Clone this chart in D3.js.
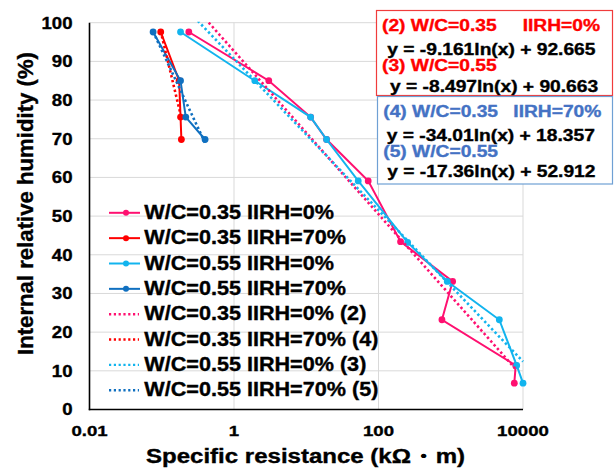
<!DOCTYPE html>
<html>
<head>
<meta charset="utf-8">
<script src="https://cdn.jsdelivr.net/npm/d3@7"></script>
<style>
  html, body { margin: 0; padding: 0; background: #fff; }
  svg { display: block; }
  text { font-family: "Liberation Sans", Arial, sans-serif; font-weight: bold; stroke: currentColor; stroke-width: 0.35px; }
</style>
</head>
<body>
<svg id="chart" width="614" height="471"></svg>
<script>
// ---------- data ----------
const seriesNames = ["W/C=0.35 IIRH=0%", "W/C=0.35 IIRH=70%", "W/C=0.55 IIRH=0%", "W/C=0.55 IIRH=70%"];
const seriesColors = ["#ff1070", "#ff0000", "#12b4ee", "#1070c0"];

const s1x = [0.237, 3.03, 11.5, 19.1, 72, 202, 1062, 755, 7925, 7580];
const s1y = [97.6, 85.0, 75.6, 69.8, 59.1, 43.4, 33.1, 23.2, 11.4, 6.8];
const s2x = [0.0968, 0.174, 0.182, 0.187];
const s2y = [97.6, 85.0, 75.6, 69.8];
const s3x = [0.182, 1.94, 11.5, 19.1, 52.4, 253, 895, 4700, 8180, 10000];
const s3y = [97.6, 85.0, 75.6, 69.8, 59.1, 43.2, 33.1, 23.2, 11.4, 6.8];
const s4x = [0.0759, 0.182, 0.215, 0.398];
const s4y = [97.6, 85.0, 75.6, 69.8];

// logarithmic trendlines y = a ln(x) + b  (as printed on the chart)
const trendNames = ["W/C=0.35 IIRH=0% (2)", "W/C=0.35 IIRH=70% (4)", "W/C=0.55 IIRH=0% (3)", "W/C=0.55 IIRH=70% (5)"];
const trendSeries = [0, 1, 2, 3];          // which data series each trend belongs to
const trendA = [-9.161, -34.01, -8.497, -17.36];
const trendB = [92.665, 18.357, 90.663, 52.912];

const xTicks = [0.01, 1, 100, 10000];
const xTickLabels = ["0.01", "1", "100", "10000"];
const yTicks = [0, 10, 20, 30, 40, 50, 60, 70, 80, 90, 100];

const xTitle = "Specific resistance (kΩ・m)";
const yTitle = "Internal relative humidity (%)";

const eqRed = [
  { t: "(2) W/C=0.35", c: "#ff0000" }, { t: "IIRH=0%", c: "#ff0000" },
  { t: "y = -9.161ln(x) + 92.665", c: "#000" },
  { t: "(3) W/C=0.55", c: "#ff0000" },
  { t: "y = -8.497ln(x) + 90.663", c: "#000" }
];
const eqBlue = [
  { t: "(4) W/C=0.35", c: "#4472c4" }, { t: "IIRH=70%", c: "#4472c4" },
  { t: "y = -34.01ln(x) + 18.357", c: "#000" },
  { t: "(5) W/C=0.55", c: "#4472c4" },
  { t: "y = -17.36ln(x) + 52.912", c: "#000" }
];

// ---------- layout ----------
const svg = d3.select("#chart");
const L = 89.5, R = 523, T = 22.7, B = 409.5;
const x = d3.scaleLog().domain([0.01, 10000]).range([L, R]);
const y = d3.scaleLinear().domain([0, 100]).range([B, T]);

function stretchText(sel, k) {
  sel.each(function () {
    const w = this.getComputedTextLength();
    d3.select(this).attr("textLength", w * k).attr("lengthAdjust", "spacingAndGlyphs");
  });
  return sel;
}

// gridlines
svg.append("g").selectAll("line").data(yTicks.filter(d => d > 0)).join("line")
  .attr("x1", L).attr("x2", R).attr("y1", d => y(d)).attr("y2", d => y(d))
  .attr("stroke", "#d9d9d9").attr("stroke-width", 1);
svg.append("g").selectAll("line").data(xTicks.filter(d => d > 0.01)).join("line")
  .attr("x1", d => x(d)).attr("x2", d => x(d)).attr("y1", T).attr("y2", B)
  .attr("stroke", "#d9d9d9").attr("stroke-width", 1);

// axes lines
svg.append("line").attr("x1", L).attr("x2", L).attr("y1", T).attr("y2", B + 0.7)
  .attr("stroke", "#000").attr("stroke-width", 1.6);
svg.append("line").attr("x1", L - 0.7).attr("x2", R).attr("y1", B).attr("y2", B)
  .attr("stroke", "#000").attr("stroke-width", 1.6);

// tick labels
stretchText(svg.append("g").style("color", "#000").selectAll("text").data(yTicks).join("text")
  .attr("x", 72.5).attr("y", d => y(d) + 5.8).attr("text-anchor", "end")
  .attr("font-size", 16).text(d => d), 1.16);
stretchText(svg.append("g").style("color", "#000").selectAll("text").data(xTicks).join("text")
  .attr("x", d => x(d)).attr("y", 436).attr("text-anchor", "middle")
  .attr("font-size", 15.5).text((d, i) => xTickLabels[i]), 1.2);

// axis titles
svg.append("text").style("color", "#000").attr("x", 305.5).attr("y", 463).attr("text-anchor", "middle")
  .attr("font-size", 19.5).attr("textLength", 319).attr("lengthAdjust", "spacingAndGlyphs")
  .text(xTitle);
svg.append("text").style("color", "#000").attr("transform", "translate(33,203.5) rotate(-90)").attr("text-anchor", "middle")
  .attr("font-size", 22).attr("textLength", 303).attr("lengthAdjust", "spacingAndGlyphs")
  .text(yTitle);

// clip
svg.append("clipPath").attr("id", "plotclip").append("rect")
  .attr("x", L).attr("y", T - 1).attr("width", R - L + 6).attr("height", B - T + 1);

const plot = svg.append("g");
const xs = [s1x, s2x, s3x, s4x], ys = [s1y, s2y, s3y, s4y];
const line = d3.line().x(d => x(d[0])).y(d => y(d[1]));

// data series
xs.forEach((sx, i) => {
  const pts = sx.map((v, j) => [v, ys[i][j]]);
  plot.append("path").attr("d", line(pts)).attr("fill", "none")
    .attr("stroke", seriesColors[i]).attr("stroke-width", 2);
  plot.append("g").selectAll("circle").data(pts).join("circle")
    .attr("cx", d => x(d[0])).attr("cy", d => y(d[1])).attr("r", 3.4)
    .attr("fill", seriesColors[i]);
});

// trendlines
const trendG = svg.append("g").attr("clip-path", "url(#plotclip)");
trendSeries.forEach((si, k) => {
  const [lo, hi] = d3.extent(xs[si]);
  const n = 60;
  const pts = d3.range(n + 1).map(j => {
    const xv = Math.exp(Math.log(lo) + (Math.log(hi) - Math.log(lo)) * j / n);
    return [xv, trendA[k] * Math.log(xv) + trendB[k]];
  });
  trendG.append("path").attr("d", line(pts)).attr("fill", "none")
    .attr("stroke", seriesColors[si]).attr("stroke-width", 2.6)
    .attr("stroke-dasharray", "2.4,2.6");
});

// legend
const legendNames = seriesNames.concat(trendNames);
const lg = svg.append("g").style("color", "#000");
legendNames.forEach((name, i) => {
  const base = 219 + i * 25.35;
  const cy = base - 6.2;
  const isTrend = i >= 4;
  const col = isTrend ? seriesColors[trendSeries[i - 4]] : seriesColors[i];
  if (!isTrend) {
    lg.append("line").attr("x1", 109).attr("x2", 140).attr("y1", cy).attr("y2", cy)
      .attr("stroke", col).attr("stroke-width", 2);
    lg.append("circle").attr("cx", 126).attr("cy", cy).attr("r", 3).attr("fill", col);
  } else {
    lg.append("line").attr("x1", 109).attr("x2", 139).attr("y1", cy).attr("y2", cy)
      .attr("stroke", col).attr("stroke-width", 2.4).attr("stroke-dasharray", "2.2,2.6");
  }
  stretchText(lg.append("text").attr("x", 144.3).attr("y", base)
    .attr("font-size", 19.3).text(name), 1.12);
});

// equation boxes
function eqBox(x0, y0, w, h, stroke, items, pos) {
  const g = svg.append("g");
  g.append("rect").attr("x", x0).attr("y", y0).attr("width", w).attr("height", h)
    .attr("fill", "#fff").attr("stroke", stroke).attr("stroke-width", 1.2);
  items.forEach((it, i) => {
    stretchText(g.append("text").style("color", it.c).attr("x", pos[i][0]).attr("y", pos[i][1])
      .attr("font-size", 16).attr("fill", it.c).text(it.t), 1.2);
  });
}
eqBox(376.5, 10.5, 236, 85, "#f03c3c", eqRed,
  [[382, 30.7], [522.7, 30.7], [387.3, 55], [382, 70.7], [390, 91.7]]);
eqBox(377.5, 96.5, 235, 87.5, "#6fa0d4", eqBlue,
  [[383.3, 116.7], [513.3, 116.7], [386.7, 140.7], [383.3, 157], [387.3, 176.7]]);
</script>
</body>
</html>
